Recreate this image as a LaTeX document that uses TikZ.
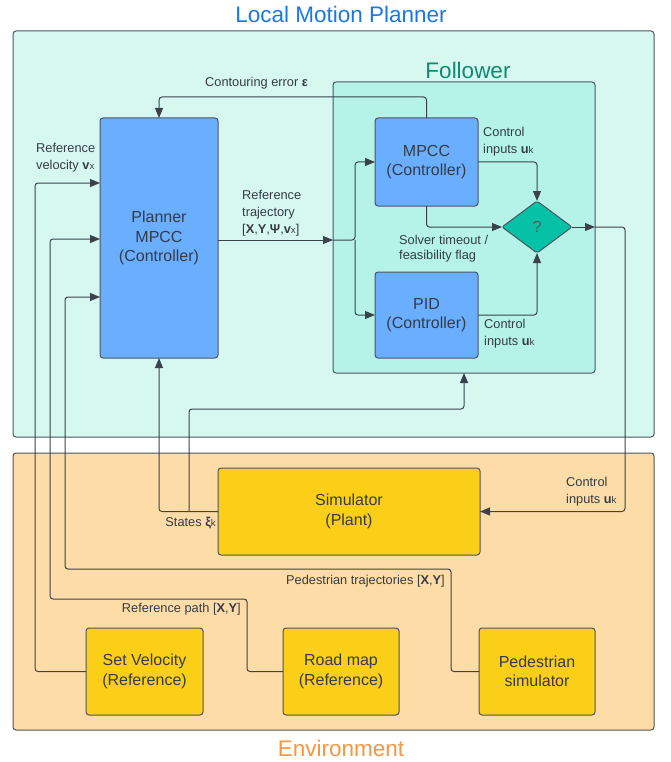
\documentclass[tikz,border=0pt]{standalone}
\usepackage{fontspec}
\setmainfont{Liberation Sans}
\usetikzlibrary{arrows.meta,shapes.geometric}
\definecolor{lmpfill}{HTML}{D6F8F1}
\definecolor{folfill}{HTML}{B5F3E9}
\definecolor{envfill}{HTML}{FEDCA7}
\definecolor{bluefill}{HTML}{6AAEFF}
\definecolor{yelfill}{HTML}{FBCF17}
\definecolor{diafill}{HTML}{05C1A6}
\definecolor{edgec}{HTML}{4E5560}
\definecolor{wirec}{HTML}{3B424C}
\definecolor{txt}{HTML}{353C46}
\definecolor{tblue}{HTML}{1A78E6}
\definecolor{torange}{HTML}{F7963F}
\definecolor{tteal}{HTML}{0E8C70}
\newcommand{\smsub}[1]{{\fontsize{9.7}{9.7}\selectfont #1}}
\begin{document}
\begin{tikzpicture}[x=1pt,y=-1pt,
  container/.style={draw=edgec, line width=1pt, rounded corners=3pt, anchor=north west, inner sep=0pt, outer sep=0pt},
  blockbox/.style={draw=edgec, line width=1pt, rounded corners=3pt, anchor=north west, inner sep=0pt, outer sep=0pt,
     align=center, text=txt, font=\fontsize{16}{19.5}\selectfont},
  bluebox/.style={blockbox, fill=bluefill},
  yelbox/.style={blockbox, fill=yelfill},
  title/.style={font=\fontsize{22.5}{25}\selectfont, inner sep=0pt},
  lbl/.style={font=\fontsize{12.8}{17}\selectfont, text=txt, align=left, inner sep=0pt, anchor=north west},
  lbls/.style={font=\fontsize{12.8}{17}\selectfont, text=txt, inner sep=0pt},
  wire/.style={draw=wirec, line width=1pt, rounded corners=3pt},
  arr/.style={wire, -{Triangle[length=10pt,width=8pt]}}
]
\useasboundingbox (0,0) rectangle (670,762);
% containers
\node[container, fill=lmpfill, minimum width=641pt, minimum height=406pt] (lmp) at (13,31) {};
\node[container, fill=envfill, minimum width=641pt, minimum height=277pt] (env) at (13,453) {};
\node[container, fill=folfill, minimum width=262pt, minimum height=291pt] (follower) at (333,82) {};
% titles
\node[title, text=tblue] (tlmp) at (341,14) {Local Motion Planner};
\node[title, text=tteal] (tfol) at (468,70) {Follower};
\node[title, text=torange] (tenv) at (341,748) {Environment};
% blocks
\node[bluebox, minimum width=118pt, minimum height=240pt] (planner) at (100,118) {Planner\\MPCC\\(Controller)};
\node[bluebox, minimum width=103pt, minimum height=88pt] (mpcc) at (375,118) {MPCC\\(Controller)};
\node[bluebox, minimum width=103pt, minimum height=86pt] (pid) at (375,272) {PID\\(Controller)};
\node[diamond, aspect=1.35, minimum width=70pt, minimum height=52pt, inner sep=0pt, outer sep=0pt,
      draw=edgec, line width=1pt, fill=diafill, rounded corners=2pt, text=txt!85,
      font=\fontsize{16}{19}\selectfont] (dia) at (537,227) {?};
\node[yelbox, minimum width=262pt, minimum height=87pt] (sim) at (218,468) {Simulator\\(Plant)};
\node[yelbox, minimum width=117pt, minimum height=87pt] (setvel) at (86,628) {Set Velocity\\(Reference)};
\node[yelbox, minimum width=116pt, minimum height=87pt] (roadmap) at (283,628) {Road map\\(Reference)};
\node[yelbox, minimum width=116pt, minimum height=87pt] (pedsim) at (479,628) {Pedestrian\\simulator};
% helper coordinates
\coordinate (rv) at (35,183);
\coordinate (rp1) at (247,599);
\coordinate (rp2) at (50,239);
\coordinate (pd1) at (451,569);
\coordinate (pd2) at (65,297);
\coordinate (sb) at (189,409);
\coordinate (ci) at (625,227);
\coordinate (rt) at (355,240);
% connectors
\draw[arr] (mpcc.north) -- ++(0,-21) -| (planner.north);
\draw[arr] (setvel.west) -| (rv) -- (rv -| planner.west);
\draw[arr] (roadmap.west) -| (rp1) -| (rp2) -- (rp2 -| planner.west);
\draw[arr] (pedsim.west) -| (pd1) -| (pd2) -- (pd2 -| planner.west);
\draw[arr] (sim.west) -| (planner.south);
\draw[arr] (sb |- sim.west) -- (sb) -| (follower.south);
\draw[arr] (dia.east) -- (dia.east -| follower.east);
\draw[arr] (dia.east -| follower.east) -- (ci) |- (sim.east);
\draw[arr] (rt -| planner.east) -- (rt -| follower.west);
\draw[arr] (rt -| follower.west) -- (rt) |- (mpcc.west);
\draw[arr] (rt) |- (pid.west);
\draw[arr] (mpcc.east) -| (dia.north);
\draw[arr] (mpcc.south) |- (dia.west);
\draw[arr] (pid.east) -| (dia.south);
% labels
\node[lbls, anchor=west] (lce) at (205,83) {Contouring error \textbf{ε}};
\node[lbl] (lrv) at (36,143) {Reference\\velocity \textbf{v}\smsub{x}};
\node[lbl] (lrt) at (242,190) {Reference\\trajectory\\{[}\textbf{X},\textbf{Y},\textbf{Ψ},\textbf{v}\smsub{x}{]}};
\node[lbl] (lcm) at (483,127) {Control\\inputs \textbf{u}\smsub{k}};
\node[lbl, font=\fontsize{12.8}{15.5}\selectfont] (lst) at (399,235) {Solver timeout /\\feasibility flag};
\node[lbl] (lcp) at (484,319) {Control\\inputs \textbf{u}\smsub{k}};
\node[lbl] (lcs) at (566,477) {Control\\inputs \textbf{u}\smsub{k}};
\node[lbls, anchor=east] (lstates) at (216,523) {States \textbf{ξ}\smsub{k}};
\node[lbls, anchor=east] (lped) at (445,581) {Pedestrian trajectories [\textbf{X},\textbf{Y}]};
\node[lbls, anchor=east] (lrp) at (241,609) {Reference path [\textbf{X},\textbf{Y}]};
\end{tikzpicture}
\end{document}
